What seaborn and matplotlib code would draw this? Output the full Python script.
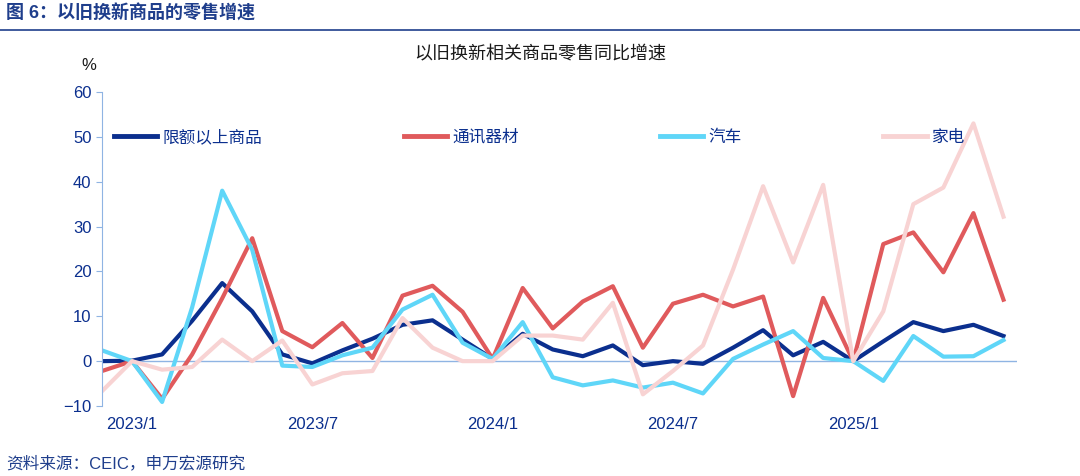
import matplotlib
matplotlib.use("Agg")
import matplotlib.pyplot as plt
import seaborn as sns
import pandas as pd
import numpy as np

plt.rcParams["font.family"] = ["Liberation Sans", "Noto Sans CJK SC", "DejaVu Sans"]

months = ["2022/12"] + [f"2023/{m}" for m in range(1, 13)] + [f"2024/{m}" for m in range(1, 13)] + [f"2025/{m}" for m in range(1, 7)]
tick_labels = ["2023/1", "2023/7", "2024/1", "2024/7", "2025/1"]
yticks = [-10, 0, 10, 20, 30, 40, 50, 60]

navy = [0, 0.1, 1.5, 9, 17.4, 11.1, 1.5, -0.5, 2.4, 5, 8.1, 9.1, 4.8, 0.5, 6.1, 2.6,
        1.1, 3.5, -0.9, 0, -0.6, 3, 6.9, 1.3, 4.3, 0, 4.4, 8.7, 6.7, 8.1, 5.6]
red = [-2.2, 0, -8.4, 1.5, 14, 27.4, 6.7, 3.1, 8.5, 0.7, 14.6, 16.8, 11, 0.5, 16.3, 7.3,
       13.3, 16.7, 3, 12.8, 14.8, 12.2, 14.4, -7.8, 14.1, 0, 26.1, 28.7, 19.8, 33, 13.7]
cyan = [2.4, 0, -9.1, 12, 38, 24.8, -1, -1.3, 1.3, 3, 11.5, 14.8, 4.1, 0.5, 8.7, -3.6,
        -5.4, -4.3, -5.9, -4.8, -7.2, 0.5, 3.7, 6.7, 0.7, 0, -4.4, 5.6, 1, 1.1, 4.7]
pink = [-6.7, 0, -1.9, -1.3, 4.8, 0, 4.6, -5.2, -2.7, -2.2, 9.6, 3, 0, 0, 5.7, 5.7,
        4.8, 13, -7.4, -2.2, 3.5, 20.4, 39, 22, 39.3, 0, 11.1, 35, 38.7, 53, 32.2]
names = ["限额以上商品", "通讯器材", "汽车", "家电"]
colors = ["#0b2f8e", "#e05a5c", "#5fd6f8", "#f8d3d3"]

x = np.arange(len(months))
df = pd.concat([pd.DataFrame({"x": x, "v": s, "s": n}) for s, n in zip([navy, red, cyan, pink], names)])

fig = plt.figure(figsize=(10.8, 4.76), dpi=100)
ax = fig.add_axes([102/1080, 1-406/476, (1017-102)/1080, (406-92)/476])
sns.lineplot(data=df, x="x", y="v", hue="s", hue_order=names, palette=colors, lw=3, ax=ax)

ax.set_xlim(0, len(months) - 0.55)
ax.set_ylim(-10, 60)
ax.set_yticks(yticks)
ax.set_xticks([months.index(t) for t in tick_labels])
ax.set_xticklabels(tick_labels)
ax.set_xlabel(""); ax.set_ylabel("")
axc = "#8fb4e3"
for sp in ["top", "right", "bottom"]:
    ax.spines[sp].set_visible(False)
ax.spines["left"].set_color(axc)
ax.axhline(0, color=axc, lw=1, zorder=0)
ax.tick_params(axis="y", colors="#0b2f8e", labelsize=12, color=axc, length=4)
ax.tick_params(axis="x", colors="#0b2f8e", labelsize=12, length=0, pad=8)
for t in ax.get_yticklabels() + ax.get_xticklabels():
    t.set_color("#0b2f8e")
ax.text(-0.006, 1.07, "%", transform=ax.transAxes, ha="right", fontsize=12, color="#1a1a1a")
leg = ax.legend(loc="upper center", bbox_to_anchor=(0.478, 0.93), ncol=4, frameon=False,
                fontsize=12, handlelength=2.6, handletextpad=0.3, columnspacing=8.5)
for t in leg.get_texts():
    t.set_color("#0b2f8e")
for l in leg.get_lines():
    l.set_linewidth(3.5)

fig.text(0.5, 1-55/476, "以旧换新相关商品零售同比增速", ha="center", va="center", fontsize=13, color="#1a1a1a")
fig.text(6/1080, 1-14/476, "图 6：以旧换新商品的零售增速", ha="left", va="center", fontsize=13,
         fontweight="bold", color="#1f3e8c")
fig.add_artist(plt.Line2D([0, 1], [1-30/476, 1-30/476], color="#1f3e8c", lw=1.2))
fig.text(6/1080, 1-463/476, "资料来源：CEIC，申万宏源研究", ha="left", va="center", fontsize=12, color="#1f3e8c")
fig.savefig("out.png", dpi=100)
